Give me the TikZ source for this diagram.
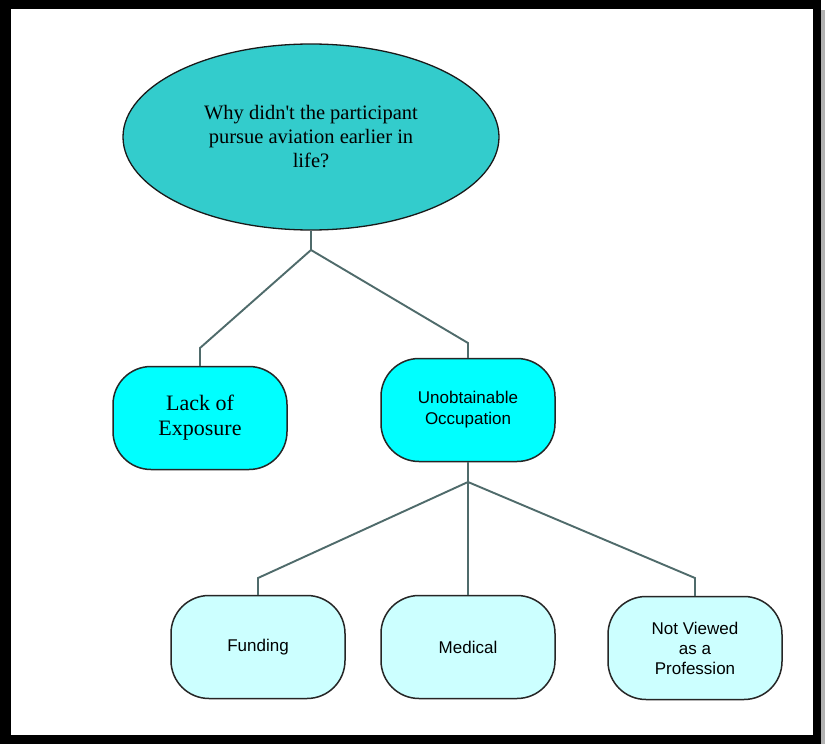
\documentclass[tikz,border=0pt]{standalone}
\usepackage{fontspec}
\setmainfont{Liberation Serif}
\setsansfont{Liberation Sans}
\usepackage{tikz}
\usetikzlibrary{shapes.geometric}
\usetikzlibrary{calc}

\definecolor{qfill}{HTML}{33CCCC}
\definecolor{midfill}{HTML}{00FFFF}
\definecolor{lowfill}{HTML}{CCFFFF}
\definecolor{linkgray}{HTML}{4F6B6B}

\tikzset{
	question/.style={ellipse, draw=black!90, line width=1.3pt, fill=qfill,
		minimum width=376pt, minimum height=186pt, align=center,
		font=\fontsize{20.5}{24}\selectfont},
	topic/.style={rectangle, rounded corners=38pt, draw=black!85, line width=1.5pt,
		minimum width=174pt, minimum height=103pt, align=center},
	link/.style={draw=linkgray, line width=1.9pt}
}

\begin{document}
\begin{tikzpicture}[x=1pt, y=-1pt]
	% frame
	\fill[white] (0,0) rectangle (825,744);
	\fill[gray!60] (821,10) rectangle (825,744);
	\fill[black] (0,0) rectangle (821,744);
	\fill[white] (11,9) rectangle (813,735);
	\useasboundingbox (0,0) rectangle (825,744);

	\node[question] (why) at (311,137) {Why didn\textquotesingle t the participant\\pursue aviation earlier in\\life?};

	\node[topic, fill=midfill, font=\fontsize{22}{25}\selectfont] (lack) at (200,418) {Lack of\\Exposure};
	\node[topic, fill=midfill, font=\sffamily\fontsize{17}{21}\selectfont] (unob) at (468,410) {Unobtainable\\Occupation};

	\node[topic, fill=lowfill, font=\sffamily\fontsize{17}{20}\selectfont] (fund) at (258,647) {Funding};
	\node[topic, fill=lowfill, font=\sffamily\fontsize{17}{20}\selectfont] (med) at (468,647) {Medical};
	\node[topic, fill=lowfill, font=\sffamily\fontsize{17}{20}\selectfont] (prof) at (695,648) {Not Viewed\\as a\\Profession};

	\coordinate (j1) at (311,250);
	\coordinate (j2) at (468,482);

	\path[link] (why.south) -- (j1);
	\path[link] (j1) -- (lack.north |- 0,348) -- (lack.north);
	\path[link] (j1) -- (unob.north |- 0,343) -- (unob.north);

	\path[link] (unob.south) -- (j2);
	\path[link] (j2) -- (fund.north |- 0,578) -- (fund.north);
	\path[link] (j2) -- (med.north);
	\path[link] (j2) -- (prof.north |- 0,578) -- (prof.north);
\end{tikzpicture}
\end{document}
